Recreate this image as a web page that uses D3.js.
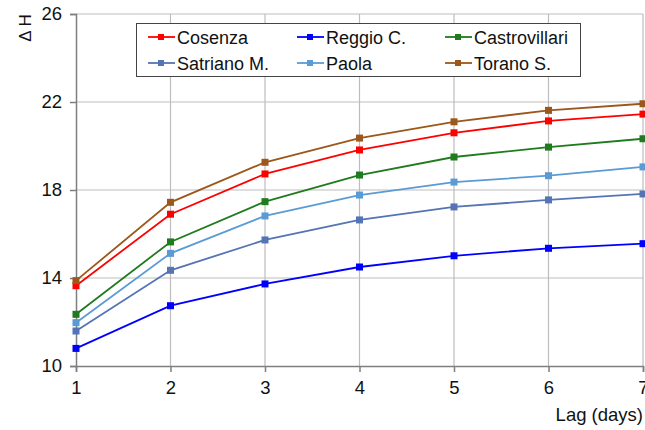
<!DOCTYPE html>
<html>
<head>
<meta charset="utf-8">
<script src="https://cdn.jsdelivr.net/npm/d3@7"></script>
<style>
  body { margin: 0; background: #fff; }
  svg { display: block; font-family: "Liberation Sans", Arial, sans-serif; }
</style>
</head>
<body>
<svg id="chart" width="645" height="430"></svg>
<script>
// Lag in days on the x axis
const lags = [1, 2, 3, 4, 5, 6, 7];
const yTicks = [10, 14, 18, 22, 26];

// ΔH per station and lag
const cosenza       = [13.65, 16.90, 18.73, 19.82, 20.60, 21.14, 21.45];
const reggio        = [10.80, 12.74, 13.73, 14.50, 15.01, 15.35, 15.56];
const castrovillari = [12.35, 15.64, 17.47, 18.68, 19.50, 19.95, 20.33];
const satriano      = [11.59, 14.35, 15.73, 16.64, 17.23, 17.55, 17.82];
const paola         = [11.97, 15.12, 16.82, 17.77, 18.36, 18.65, 19.05];
const torano        = [13.88, 17.44, 19.26, 20.36, 21.10, 21.62, 21.92];

const stations = [
  { name: "Cosenza",       values: cosenza,       color: "#ff0000" },
  { name: "Reggio C.",     values: reggio,        color: "#0000ff" },
  { name: "Castrovillari", values: castrovillari, color: "#1e7b1e" },
  { name: "Satriano M.",   values: satriano,      color: "#5474b4" },
  { name: "Paola",         values: paola,         color: "#5b9bd5" },
  { name: "Torano S.",     values: torano,        color: "#9c571b" }
];

const svg = d3.select("#chart");
const plotL = 76, plotR = 643, plotT = 14, plotB = 366;

const x = d3.scaleLinear().domain([1, 7]).range([plotL, plotR]);
const y = d3.scaleLinear().domain([10, 26]).range([plotB, plotT]);

// grid
const grid = svg.append("g");
grid.selectAll("line.v").data(lags.slice(1)).join("line")
  .attr("x1", d => x(d)).attr("x2", d => x(d))
  .attr("y1", plotT).attr("y2", plotB)
  .attr("stroke", "#bdbdbd").attr("stroke-width", 1.2);
grid.selectAll("line.h").data(yTicks.slice(1)).join("line")
  .attr("x1", plotL).attr("x2", plotR)
  .attr("y1", d => y(d)).attr("y2", d => y(d))
  .attr("stroke", "#bdbdbd").attr("stroke-width", 1.2);

// axes
const xAxis = svg.append("g").attr("transform", `translate(0,${plotB})`)
  .call(d3.axisBottom(x).tickValues(lags).tickSize(6).tickPadding(9).tickFormat(d3.format("d")));
const yAxis = svg.append("g").attr("transform", `translate(${plotL},0)`)
  .call(d3.axisLeft(y).tickValues(yTicks).tickSize(6).tickPadding(8));
[xAxis, yAxis].forEach(a => {
  a.select(".domain").attr("stroke", "#7f7f7f").attr("stroke-width", 1.5);
  a.selectAll(".tick line").attr("stroke", "#7f7f7f").attr("stroke-width", 1.5);
  a.selectAll(".tick text").attr("fill", "#111").style("font-size", "18.5px")
    .style("font-family", "'Liberation Sans', Arial, sans-serif");
});

// axis titles
svg.append("text")
  .attr("transform", "translate(31,28) rotate(-90)")
  .attr("text-anchor", "middle")
  .style("font-size", "17px").attr("fill", "#111")
  .text("Δ H");
svg.append("text")
  .attr("x", plotR).attr("y", 421)
  .attr("text-anchor", "end")
  .style("font-size", "18.5px").attr("fill", "#111")
  .text("Lag (days)");

// series
const line = d3.line().x((d, i) => x(lags[i])).y(d => y(d));
const series = svg.append("g").selectAll("g").data(stations).join("g");
series.append("path")
  .attr("d", d => line(d.values))
  .attr("fill", "none")
  .attr("stroke", d => d.color)
  .attr("stroke-width", 1.8);
series.each(function(s) {
  d3.select(this).selectAll("rect").data(s.values).join("rect")
    .attr("x", (d, i) => x(lags[i]) - 3.5)
    .attr("y", d => y(d) - 3.5)
    .attr("width", 7).attr("height", 7)
    .attr("fill", s.color);
});

// legend
const legend = svg.append("g");
legend.append("rect")
  .attr("x", 136.5).attr("y", 23.5).attr("width", 444).attr("height", 53)
  .attr("fill", "#fff").attr("stroke", "#444").attr("stroke-width", 1);
const colX = [148, 297, 445];
const rowY = [37, 63];
stations.forEach((s, i) => {
  const cx = colX[i % 3], cy = rowY[Math.floor(i / 3)];
  const g = legend.append("g");
  g.append("line").attr("x1", cx).attr("x2", cx + 27).attr("y1", cy).attr("y2", cy)
    .attr("stroke", s.color).attr("stroke-width", 1.8);
  g.append("rect").attr("x", cx + 10).attr("y", cy - 3).attr("width", 6).attr("height", 6)
    .attr("fill", s.color);
  g.append("text").attr("x", cx + 29).attr("y", cy + 6.5)
    .style("font-size", "18px").attr("fill", "#111").text(s.name);
});
</script>
</body>
</html>
